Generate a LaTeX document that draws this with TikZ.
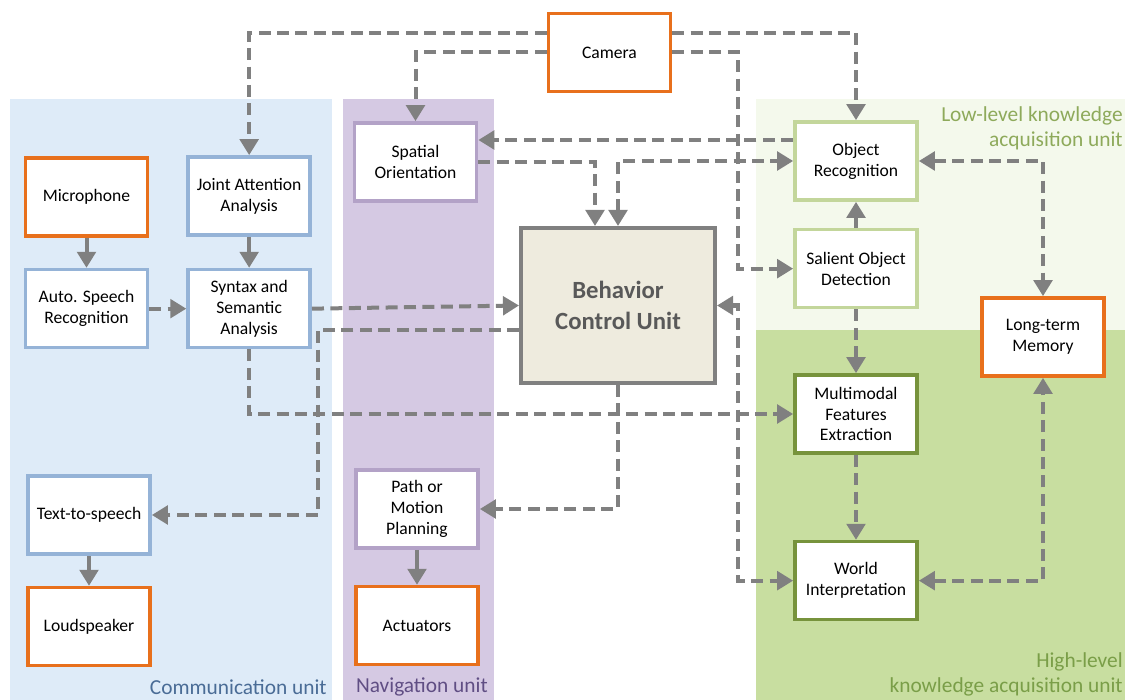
\documentclass[tikz,border=0pt]{standalone}
\usepackage{fontspec}
\setmainfont{Carlito}
\usepackage{tikz}
\usetikzlibrary{arrows.meta,positioning}
\definecolor{orng}{RGB}{232,112,28}
\definecolor{comb}{RGB}{149,179,215}
\definecolor{navb}{RGB}{179,162,199}
\definecolor{lowb}{RGB}{195,214,155}
\definecolor{highb}{RGB}{119,147,60}
\definecolor{linegray}{RGB}{128,128,128}
\definecolor{bcufill}{RGB}{238,235,222}
\definecolor{bcutext}{RGB}{89,89,89}
\definecolor{combg}{RGB}{222,235,248}
\definecolor{navbg}{RGB}{213,201,227}
\definecolor{lowbg}{RGB}{244,249,236}
\definecolor{highbg}{RGB}{200,222,160}
\definecolor{comtxt}{RGB}{74,108,150}
\definecolor{navtxt}{RGB}{96,78,132}
\definecolor{lowtxt}{RGB}{142,170,91}
\definecolor{hightxt}{RGB}{122,158,72}
\tikzstyle{unit}=[draw, line width=2.6pt, fill=white, align=center, minimum width=30.5mm, minimum height=19.5mm, inner sep=1pt, font=\fontsize{12.5}{14.9}\selectfont]
\tikzstyle{io}=[unit, draw=orng]
\tikzstyle{com}=[unit, draw=comb]
\tikzstyle{nav}=[unit, draw=navb]
\tikzstyle{low}=[unit, draw=lowb]
\tikzstyle{high}=[unit, draw=highb]
\tikzstyle{sflow}=[draw=linegray, line width=1mm, -{Triangle[length=4mm,width=4.6mm]}]
\tikzstyle{dflow}=[sflow, dash pattern=on 3mm off 1.6mm]
\tikzstyle{dboth}=[dflow, {Triangle[length=4mm,width=4.6mm]}-{Triangle[length=4mm,width=4.6mm]}]
\tikzstyle{area}=[font=\fontsize{15.2}{17.7}\selectfont, align=right, inner sep=0pt]

\begin{document}
\begin{tikzpicture}[x=0.25mm, y=-0.25mm]
\useasboundingbox (0,0) rectangle (1125,700);
\fill[combg] (10,99) rectangle (332,700);
\fill[navbg] (343,99) rectangle (494,700);
\fill[lowbg] (756,99) rectangle (1125,330);
\fill[highbg] (756,330) rectangle (1125,700);
\node[area, text=comtxt, anchor=east] (comlbl) at (327,687) {Communication unit};
\node[area, text=navtxt, anchor=east] (navlbl) at (488,687) {Navigation unit};
\node[area, text=lowtxt, anchor=east] (lowlbl) at (1123,128.5) {Low-level knowledge\\acquisition unit};
\node[area, text=hightxt, anchor=east] (highlbl) at (1123,674.5) {High-level\\knowledge acquisition unit};

\node[io] (camera) at (609.5,52.5) {Camera};
\node[io] (mic) at (86.5,197) {Microphone};
\node[com, below=7.5mm of mic] (asr) {Auto. Speech\\Recognition};
\node[com, right=9.25mm of asr] (syntax) {Syntax and\\Semantic\\Analysis};
\node[com, above=7.75mm of syntax] (joint) {Joint Attention\\Analysis};
\node[com] (tts) at (89,515) {Text-to-speech};
\node[io, below=7.5mm of tts] (loud) {Loudspeaker};
\node[nav] (spatial) at (415.5,162) {Spatial\\Orientation};
\node[nav] (path) at (417,509) {Path or\\Motion\\Planning};
\node[io, below=8.75mm of path] (act) {Actuators};
\node[draw=linegray, line width=1mm, fill=bcufill, minimum width=48.5mm, minimum height=38.75mm, align=center, text=bcutext, font=\bfseries\fontsize{17.6}{22}\selectfont] (bcu) at (618,305.5) {Behavior\\Control Unit};
\node[low] (objrec) at (856,161) {Object\\Recognition};
\node[low, below=6.5mm of objrec] (salient) {Salient Object\\Detection};
\node[high] (multi) at (856,414) {Multimodal\\Features\\Extraction};
\node[high, below=21.25mm of multi] (world) {World\\Interpretation};
\node[io] (ltm) at (1043,337) {Long-term\\Memory};

\draw[sflow] (mic) -- (asr);
\draw[sflow] (joint) -- (syntax);
\draw[sflow] (tts) -- (loud);
\draw[sflow] (path) -- (act);
\draw[sflow] (salient) -- (objrec);
\draw[dflow] (asr) -- (syntax);
\draw[dflow] (syntax.east) -- (bcu.west);
\draw[dflow] (syntax.south) |- (multi.west);
\draw[dflow] ([yshift=4.9mm]camera.west) -| (joint.north);
\draw[dflow] (camera.west) -| (spatial.north);
\draw[dflow] ([yshift=4.9mm]camera.east) -| (objrec.north);
\draw[dflow] (camera.east) -| ([xshift=-13.75mm]salient.west) -- (salient.west);
\draw[dflow] ([yshift=5.25mm]objrec.west) -- ([yshift=5.25mm]objrec.west -| spatial.east);
\draw[dflow] (spatial.east) -| ([xshift=-5.75mm]bcu.north);
\draw[dboth] (bcu.north) |- (objrec.west);
\draw[dflow] (salient) -- (multi);
\draw[dflow] (multi) -- (world);
\draw[dboth] (objrec.east) -| (ltm.north);
\draw[dboth] (world.east) -| (ltm.south);
\draw[dboth] (bcu.east) -| ([xshift=-13.75mm]world.west) -- (world.west);
\draw[dflow] ([yshift=-6.1mm]bcu.west) -| ([xshift=41.5mm]tts.east) -- (tts.east);
\draw[dflow] (bcu.south) |- (path.east);
\end{tikzpicture}
\end{document}
